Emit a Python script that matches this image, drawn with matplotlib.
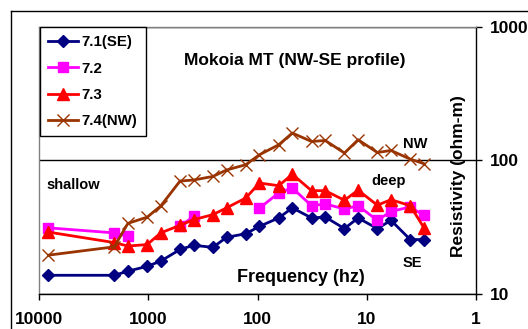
import numpy as np
import matplotlib
matplotlib.use("Agg")
import matplotlib.pyplot as plt
from matplotlib.lines import Line2D

plt.rcParams['font.family'] = ['Liberation Sans', 'DejaVu Sans']
plt.rcParams['font.weight'] = 'bold'

# Data
freq = [8192, 2048, 1536, 1024, 768, 512, 384, 256, 192, 128, 96,
        64, 48, 32, 24, 16, 12, 8, 6, 4, 3]
s71 = [13.7, 13.7, 14.7, 16.0, 17.5, 21.4, 23.0, 22.2, 26.4, 28.1, 31.9,
       36.9, 43.9, 36.9, 37.5, 30.7, 36.9, 30.7, 35.4, 25.4, 25.4]
s72 = [31.1, 28.5, 26.9, np.nan, np.nan, 31.9, 37.9, np.nan, np.nan, np.nan, 43.7,
       56.8, 61.9, 45.6, 47.0, 43.1, 45.6, 35.4, 41.3, 44.6, 38.6]
s73 = [28.9, 24.1, 22.7, 23.3, 28.5, 32.5, 35.8, 39.1, 43.9, 52.1, 67.5,
       64.4, 78.5, 59.1, 59.1, 50.1, 59.6, 46.0, 50.6, 45.6, 31.2]
s74 = [19.4, 22.4, 33.6, 37.4, 45.4, 69.8, 71.1, 75.6, 84.5, 92.6, 110,
       130.6, 160, 138.3, 140.7, 113.3, 142.5, 114.4, 118.4, 102, 94.2]
labels = ["7.1(SE)", "7.2", "7.3", "7.4(NW)"]

W, H = 528, 329
fig = plt.figure(figsize=(W / 100, H / 100), dpi=100)

def fx(x):
    return x / W

def fy(y):
    return 1 - y / H

ax = fig.add_axes([fx(39), fy(293.5), fx(476) - fx(39), fy(27) - fy(293.5)])

ax.plot(freq, s71, color='#000080', lw=2, marker='D', ms=6.5, label=labels[0])
ax.plot(freq, s72, color='#FF00FF', lw=2, marker='s', ms=6.5, label=labels[1])
ax.plot(freq, s73, color='#FF0000', lw=2, marker='^', ms=8, label=labels[2])
ax.plot(freq, s74, color='#993300', lw=2, marker='x', ms=8.5, mew=1, label=labels[3])

ax.set_xscale('log')
ax.set_yscale('log')
ax.set_xlim(10000, 1)
ax.set_ylim(10, 1000)
ax.set_xticks([10000, 1000, 100, 10, 1])
ax.set_xticklabels(["10000", "1000", "100", "10", "1"])
ax.set_yticks([10, 100, 1000])
ax.set_yticklabels(["10", "100", "1000"])
ax.minorticks_off()
ax.yaxis.tick_right()
ax.tick_params(axis='x', direction='out', length=4.5, width=1, pad=9,
               labelsize=12.5, colors='black')
ax.tick_params(axis='y', direction='out', length=4, width=1, pad=6,
               labelsize=12.5, colors='black')
for t in ax.get_xticklabels() + ax.get_yticklabels():
    t.set_fontweight('bold')

ax.yaxis.grid(True, which='major', color='black', lw=1)
ax.set_axisbelow(True)

ax.spines['top'].set_color('#808080')
ax.spines['left'].set_color('#808080')
ax.spines['bottom'].set_color('black')
ax.spines['right'].set_color('black')
for s in ax.spines.values():
    s.set_linewidth(1)

leg = ax.legend(loc='upper left', bbox_to_anchor=(0.002, 1.0), borderaxespad=0,
                frameon=True, fancybox=False, edgecolor='black', framealpha=1,
                prop={'weight': 'bold', 'size': 10.8}, handlelength=2.0,
                handletextpad=0.25, labelspacing=0.82, borderpad=0.55)
leg.get_frame().set_linewidth(1)

# texts inside the chart
fig.text(fx(294.5), fy(60), "Mokoia MT (NW-SE profile)", ha='center', va='center',
         fontsize=12.5, fontweight='bold')
fig.text(fx(46), fy(185), "shallow", ha='left', va='center', fontsize=10.5, fontweight='bold')
fig.text(fx(371), fy(181), "deep", ha='left', va='center', fontsize=10.5, fontweight='bold')
fig.text(fx(403), fy(144), "NW", ha='left', va='center', fontsize=10.5, fontweight='bold')
fig.text(fx(403), fy(263), "SE", ha='left', va='center', fontsize=10.5, fontweight='bold')
fig.text(fx(237), fy(277), "Frequency (hz)", ha='left', va='center', fontsize=13, fontweight='bold')
fig.text(fx(458), fy(176), "Resistivity (ohm-m)", ha='center', va='center', rotation=90,
         fontsize=12.5, fontweight='bold')

# outer chart border (cropped on right and bottom)
fig.add_artist(Line2D([fx(11), 1.0], [fy(11), fy(11)], color='black', lw=1))
fig.add_artist(Line2D([fx(11), fx(11)], [fy(11), 0.0], color='black', lw=1))

fig.savefig("out.png", dpi=100)
